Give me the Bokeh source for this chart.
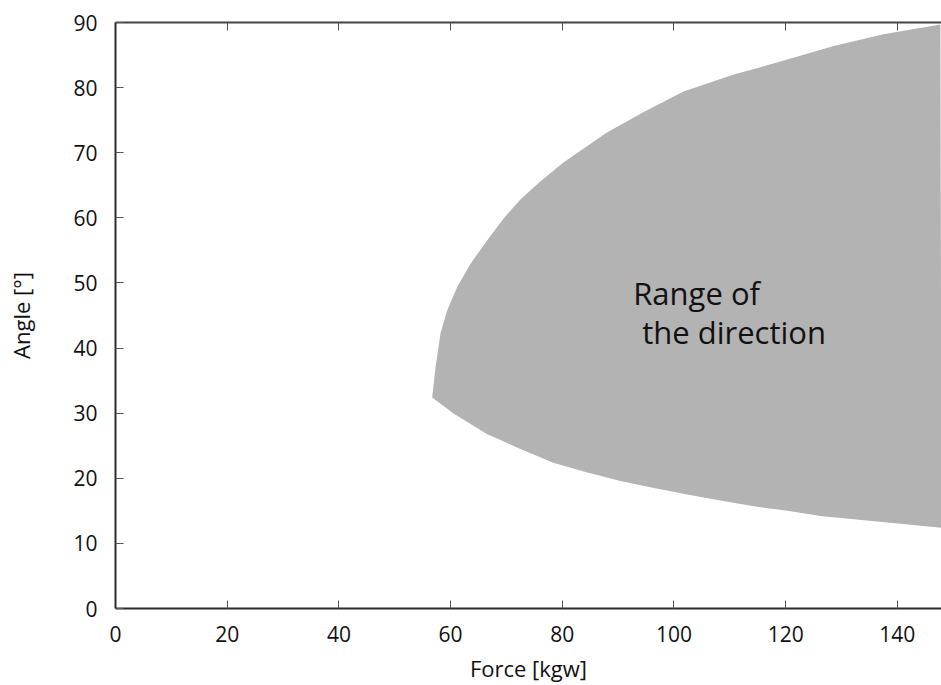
from bokeh.plotting import figure
from bokeh.models import LinearAxis, Range1d, FixedTicker
from bokeh.core.properties import value
from bokeh.embed import file_html
from bokeh.resources import INLINE

# Boundary of the shaded region
upper_force = [56.7, 57.3, 58.2, 59.4, 61.2, 63.6, 66.6, 69.5, 72.5, 76.1, 80.2, 83.9, 88.0,
               94.5, 101.7, 110.7, 120.3, 128.6, 137.5, 147.7]
upper_angle = [32.4, 37.0, 42.3, 45.8, 49.4, 53.0, 56.6, 59.9, 62.8, 65.6, 68.5, 70.7, 73.1,
               76.2, 79.4, 82.0, 84.3, 86.4, 88.2, 89.7]
lower_force = [56.7, 60.6, 66.5, 72.5, 78.4, 84.5, 90.4, 96.4, 102.4, 108.3, 114.3, 120.3,
               126.2, 132.2, 138.2, 147.9]
lower_angle = [32.4, 29.9, 26.8, 24.5, 22.4, 20.9, 19.6, 18.5, 17.5, 16.6, 15.7, 15.0,
               14.2, 13.7, 13.2, 12.4]

x_ticks = [0, 20, 40, 60, 80, 100, 120, 140]
y_ticks = [0, 10, 20, 30, 40, 50, 60, 70, 80, 90]
label_lines = ["Range of", "the direction"]
label_x = [92.7, 94.3]
label_y = [48.4, 42.4]

FONT = "Open Sans"

p = figure(width=941, height=685, output_backend="svg", toolbar_location=None,
           x_range=Range1d(0, 147.9), y_range=Range1d(0, 90),
           min_border_left=115, min_border_right=0, min_border_top=22, min_border_bottom=76,
           x_axis_label="Force [kgw]", y_axis_label="Angle [°]")
p.outline_line_color = None
p.grid.visible = False
p.background_fill_color = "white"
p.border_fill_color = "white"

xs = lower_force + [upper_force[-1]] + upper_force[::-1]
ys = lower_angle + [upper_angle[-1]] + upper_angle[::-1]
p.patch(xs, ys, fill_color="#b3b3b3", line_color=None)

p.text(x=label_x, y=label_y, text=label_lines, text_font=value(FONT),
       text_font_size="31px", text_color="#111111", text_baseline="alphabetic",
       text_align="left")

for ax, ticks in ((p.xaxis[0], x_ticks), (p.yaxis[0], y_ticks)):
    ax.ticker = FixedTicker(ticks=ticks)
    ax.axis_line_color = "#2b2b2b"
    ax.axis_line_width = 2
    ax.major_tick_in = 8
    ax.major_tick_out = 0
    ax.major_tick_line_color = "#555555"
    ax.major_tick_line_width = 1
    ax.minor_tick_line_color = None
    ax.major_label_text_font = FONT
    ax.major_label_text_font_size = "21px"
    ax.major_label_text_color = "#111111"
    ax.axis_label_text_font = FONT
    ax.axis_label_text_font_size = "22px"
    ax.axis_label_text_font_style = "normal"
    ax.axis_label_text_color = "#111111"

p.yaxis[0].major_label_standoff = 18
p.yaxis[0].axis_label_standoff = 34
p.xaxis[0].major_label_standoff = 17
p.xaxis[0].axis_label_standoff = 8

top = LinearAxis(ticker=FixedTicker(ticks=x_ticks))
top.axis_line_color = "#444444"
top.axis_line_width = 2
top.major_tick_in = 8
top.major_tick_out = 0
top.major_tick_line_color = "#555555"
top.minor_tick_line_color = None
top.major_label_overrides = {t: "" for t in x_ticks}
top.major_label_standoff = 0
p.add_layout(top, "above")

open("out.html", "w").write(file_html(p, INLINE))
